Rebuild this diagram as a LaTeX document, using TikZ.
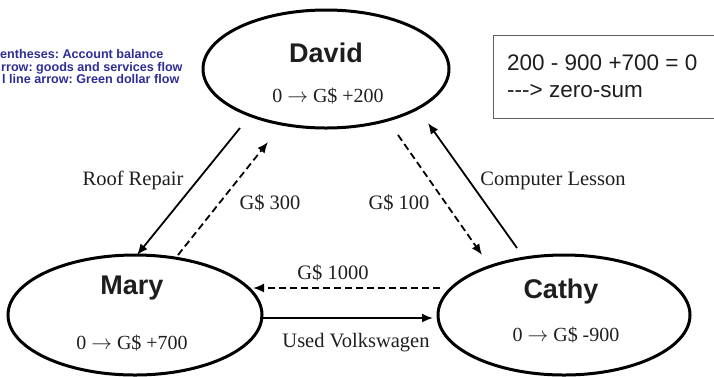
\documentclass[tikz,border=0pt]{standalone}
\usepackage{fontspec}
\setmainfont{Liberation Serif}
\setsansfont{Liberation Sans}
\usetikzlibrary{shapes.geometric,arrows.meta,calc}
\definecolor{legendblue}{RGB}{45,45,150}
\definecolor{ink}{RGB}{30,30,30}
\definecolor{boxgray}{RGB}{95,95,95}
\newcommand{\balarrow}{\(\rightarrow\)}
\frenchspacing

\begin{document}
\begin{tikzpicture}[x=1pt,y=-1pt,
  party/.style={ellipse,draw,line width=3pt,inner sep=0pt},
  who/.style={font=\sffamily\bfseries\fontsize{27}{30}\selectfont,text=ink},
  bal/.style={font=\fontsize{20}{24}\selectfont,text=ink},
  flowlabel/.style={font=\fontsize{20.5}{24}\selectfont,text=ink},
  legend/.style={font=\sffamily\bfseries\fontsize{12.6}{14}\selectfont,text=legendblue,anchor=base west,inner sep=0pt},
  sumtext/.style={font=\sffamily\fontsize{22.5}{26}\selectfont,text=ink,anchor=base west,inner sep=0pt},
  goods/.style={line width=1.8pt,-{Latex[length=11pt,width=9pt]}},
  money/.style={goods,dash pattern=on 7pt off 4pt},
]
\useasboundingbox (0,0) rectangle (714,376);
\clip (0,0) rectangle (714,376);

% the three parties
\node[party,minimum width=246pt,minimum height=118pt] (David) at (326,69) {};
\node[party,minimum width=254pt,minimum height=120pt] (Mary)  at (135,315) {};
\node[party,minimum width=252pt,minimum height=120pt] (Cathy) at (564,315) {};

\node[who] (davidname) at ($(David)+(0,-16)$) {David};
\node[bal] (davidbal)  at ($(David)+(2,27)$) {0 \balarrow{} G\$ +200};
\node[who] (maryname)  at ($(Mary)+(-3,-27)$) {Mary};
\node[bal] (marybal)   at ($(Mary)+(-3,28)$) {0 \balarrow{} G\$ +700};
\node[who] (cathyname) at ($(Cathy)+(-3,-23)$) {Cathy};
\node[bal] (cathybal)  at ($(Cathy)+(2,20)$) {0 \balarrow{} G\$ -900};

% end points of the flows, next to each party
\coordinate (dRoof)  at ($(David)+(-86,59)$);
\coordinate (mRoof)  at ($(Mary)+(2,-60)$);
\coordinate (m300)   at ($(Mary)+(43,-60)$);
\coordinate (d300)   at ($(David)+(-58,73)$);
\coordinate (d100)   at ($(David)+(72,66)$);
\coordinate (c100)   at ($(Cathy)+(-82,-60)$);
\coordinate (cLesson) at ($(Cathy)+(-47,-67)$);
\coordinate (dLesson) at ($(David)+(102,54)$);
\coordinate (c1000)  at ($(Cathy)+(-124,-27)$);
\coordinate (m1000)  at ($(Mary)+(118,-27)$);
\coordinate (mVW)    at ($(Mary)+(125,3)$);
\coordinate (cVW)    at ($(Cathy)+(-131,3)$);

% goods and services (solid), Green dollars (dashed)
\draw[goods] (dRoof) -- (mRoof);
\draw[money] (m300) -- (d300);
\draw[money] (d100) -- (c100);
\draw[goods] (cLesson) -- (dLesson);
\draw[money] (c1000) -- (m1000);
\draw[goods] (mVW) -- (cVW);

\node[flowlabel] (lroof)   at (133,180) {Roof Repair};
\node[flowlabel] (l300)    at (270,203) {G\$ 300};
\node[flowlabel] (l100)    at (399,203) {G\$ 100};
\node[flowlabel] (llesson) at (553,181) {Computer Lesson};
\node[flowlabel] (l1000)   at (333,273) {G\$ 1000};
\node[flowlabel] (lvw)     at (356,343) {Used Volkswagen};

% zero-sum check
\node[draw=boxgray,line width=1.4pt,minimum width=240pt,minimum height=83pt,anchor=north west,inner sep=0pt] (sumbox) at (493,35) {};
\node[sumtext] (sum1) at ($(sumbox.north west)+(14,35)$) {200 - 900 +700 = 0};
\node[sumtext] (sum2) at ($(sumbox.north west)+(14,62)$) {-{}-{}-> zero-sum};

% key
\node[legend] (key1) at (0,58) {entheses: Account balance};
\node[legend] (key2) at (1,71) {rrow: goods and services flow};
\node[legend] (key3) at (2,83.5) {l line arrow: Green dollar flow};
\end{tikzpicture}
\end{document}
